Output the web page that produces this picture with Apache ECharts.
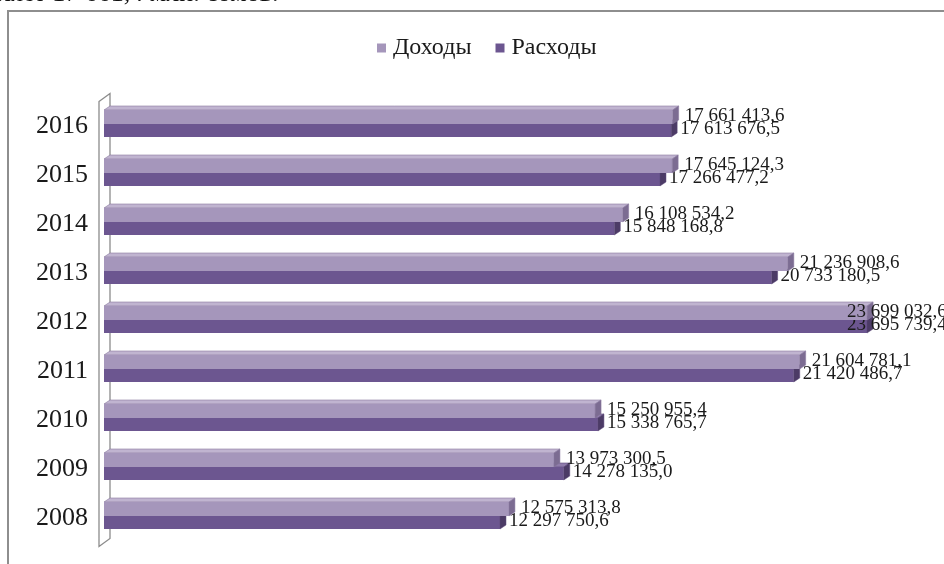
<!DOCTYPE html>
<html>
<head>
<meta charset="utf-8">
<script src="https://cdn.jsdelivr.net/npm/echarts@6/dist/echarts.min.js"></script>
<style>
html,body{margin:0;padding:0;background:#fff;}
#main{width:944px;height:564px;}
</style>
</head>
<body>
<div id="main"></div>
<script>
const years = ['2008','2009','2010','2011','2012','2013','2014','2015','2016'];
const income = [12575313.8, 13973300.5, 15250955.4, 21604781.1, 23699032.6, 21236908.6, 16108534.2, 17645124.3, 17661413.6];
const expenses = [12297750.6, 14278135.0, 15338765.7, 21420486.7, 23695739.4, 20733180.5, 15848168.8, 17266477.2, 17613676.5];
const seriesNames = ['Доходы', 'Расходы'];

const FONT = '"Liberation Serif", "Times New Roman", serif';
const GRID = {left: 104, right: 35, top: 101.5, bottom: 21.5};
const CHART_W = 944;
const LABEL_W = 97;

function fmt(v) {
  const parts = v.toFixed(1).split('.');
  const intPart = parts[0].replace(/\B(?=(\d{3})+(?!\d))/g, ' ');
  return intPart + ',' + parts[1];
}

const palettes = [
  {front: '#a596bb', top: '#c0b4d0', cap: '#7c6c92', edge: '#8a7ba0'},
  {front: '#6c5690', top: '#8f7bab', cap: '#4c3b66', edge: '#5a4778'}
];

function makeRender(si) {
  return function (params, api) {
    const cat = api.value(1);
    const val = api.value(0);
    const c = api.coord([0, cat]);
    const e = api.coord([val, cat]);
    const x0 = c[0], x1 = e[0], cy = c[1];
    const dx = 6, dy = 4;
    let top, bot;
    if (si === 0) { top = cy - 16; bot = cy - 2; } else { top = cy - 2; bot = cy + 11; }
    const p = palettes[si];
    let lx = x1 + dx + (si === 0 ? 6 : 3);
    lx = Math.min(lx, CHART_W - LABEL_W);
    const children = [
      {type: 'polygon', shape: {points: [[x0, top], [x0 + dx, top - dy], [x1 + dx, top - dy], [x1, top]]},
       style: {fill: p.top, stroke: p.edge, lineWidth: 0.6}},
      {type: 'rect', shape: {x: x0, y: top, width: x1 - x0, height: bot - top},
       style: {fill: p.front}},
      {type: 'polygon', shape: {points: [[x1, top], [x1 + dx, top - dy], [x1 + dx, bot - dy], [x1, bot]]},
       style: {fill: p.cap, stroke: p.edge, lineWidth: 0.5}},
      {type: 'text', z2: 10, style: {
        text: fmt(val), x: lx, y: si === 0 ? cy - 10 : cy + 3,
        font: '19px ' + FONT, fill: '#1a1a1a', align: 'left', verticalAlign: 'middle'}}
    ];
    return {type: 'group', children: children};
  };
}

const chart = echarts.init(document.getElementById('main'), null, {renderer: 'canvas'});

const wallFrontX = GRID.left - 5, wallBackX = GRID.left + 6;
const wallTop = GRID.top, wallBot = 564 - GRID.bottom + 4;

chart.setOption({
  backgroundColor: '#ffffff',
  animation: false,
  legend: {
    data: seriesNames,
    left: 372, top: 31,
    icon: 'rect', itemWidth: 9, itemHeight: 9, itemGap: 24,
    textStyle: {fontFamily: FONT, fontSize: 24, color: '#1a1a1a', padding: [0, 0, 0, 2]}
  },
  grid: GRID,
  xAxis: {type: 'value', min: 0, max: 25000000, show: false},
  yAxis: {
    type: 'category', data: years,
    axisLine: {show: false}, axisTick: {show: false}, splitLine: {show: false},
    axisLabel: {fontFamily: FONT, fontSize: 26, color: '#1a1a1a', margin: 16}
  },
  graphic: [
    {type: 'text', left: -2, top: -19, silent: true,
     style: {text: 'ляет 17 661,4 млн. сомов.', font: '26px ' + FONT, fill: '#111'}},
    {type: 'rect', silent: true, z: -10,
     shape: {x: 8, y: 11, width: 1000, height: 600},
     style: {fill: 'none', stroke: '#8e8e8e', lineWidth: 2}},
    {type: 'polygon', silent: true, z: 0,
     shape: {points: [[wallFrontX, wallTop], [wallBackX, wallTop - 8], [wallBackX, wallBot - 8], [wallFrontX, wallBot]]},
     style: {fill: '#ffffff', stroke: '#8c8c8c', lineWidth: 1.3}}
  ],
  series: [
    {name: seriesNames[0], type: 'custom', z: 4, renderItem: makeRender(0),
     itemStyle: {color: palettes[0].front},
     encode: {x: 0, y: 1},
     data: income.map((v, i) => [v, i])},
    {name: seriesNames[1], type: 'custom', z: 3, renderItem: makeRender(1),
     itemStyle: {color: palettes[1].front},
     encode: {x: 0, y: 1},
     data: expenses.map((v, i) => [v, i])}
  ]
});
</script>
</body>
</html>
